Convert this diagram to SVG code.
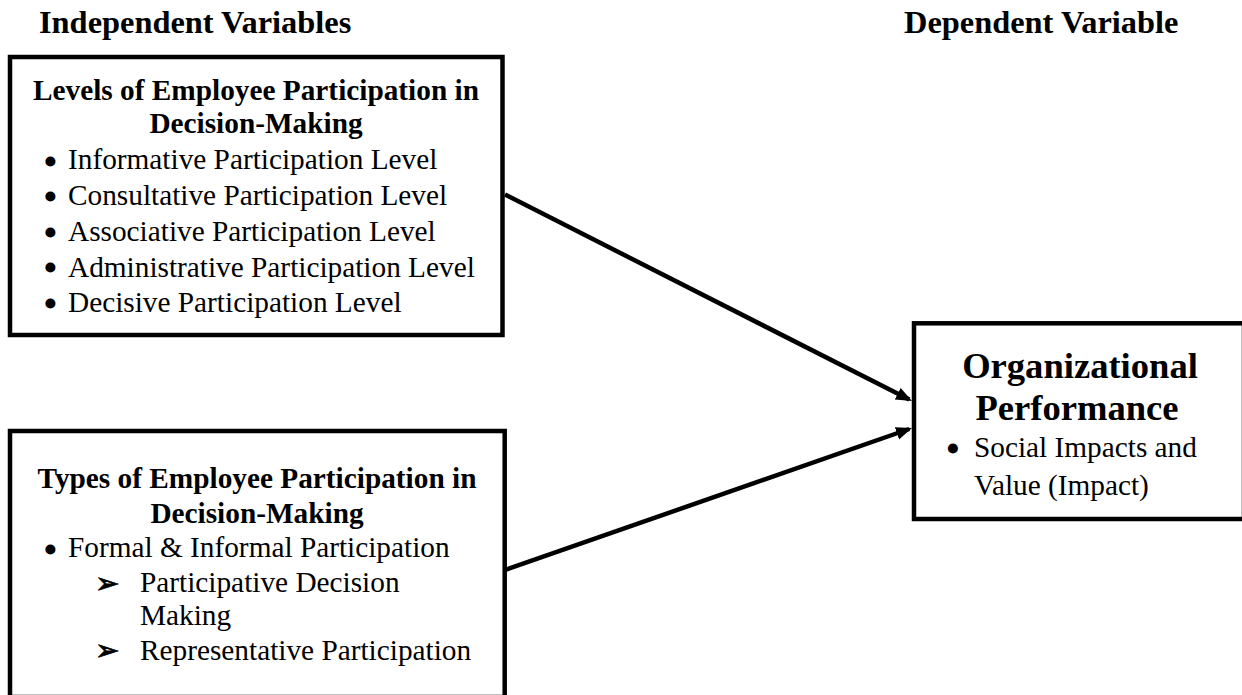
<svg xmlns="http://www.w3.org/2000/svg" width="1242" height="695" viewBox="0 0 1242 695">
<style>
.box{fill:#fff;stroke:#000;stroke-width:4.5}
.hd{font-family:"Liberation Serif","Times New Roman",serif;font-weight:bold;font-size:32.4px;fill:#000}
.tt{font-family:"Liberation Serif","Times New Roman",serif;font-weight:bold;font-size:29.3px;fill:#000;text-anchor:middle}
.big{font-family:"Liberation Serif","Times New Roman",serif;font-weight:bold;font-size:36.6px;fill:#000;text-anchor:middle}
.it{font-family:"Liberation Serif","Times New Roman",serif;font-size:29.3px;fill:#000}
.bl{font-family:"Liberation Serif","Times New Roman",serif;font-size:29.3px;fill:#000;stroke:#000;stroke-width:3;text-anchor:middle}
.ar{font-family:"DejaVu Sans",sans-serif;font-size:29px;fill:#000;stroke:#000;stroke-width:0.8}
.cn{stroke:#000;stroke-width:4.5;fill:none}
</style>
<defs>
<marker id="ah" markerUnits="userSpaceOnUse" markerWidth="18" markerHeight="14" refX="13" refY="6.5" orient="auto">
<path d="M0,0 L16,6.5 L0,13 z" fill="#000"/>
</marker>
</defs>
<g id="headings">
<text class="hd" x="39" y="33">Independent Variables</text>
<text class="hd" x="904" y="33">Dependent Variable</text>
</g>
<g id="levels">
<rect class="box" x="10" y="57" width="492.5" height="278"/>
<text class="tt" x="256" y="99.5">Levels of Employee Participation in</text>
<text class="tt" x="256" y="132.5">Decision-Making</text>
<text class="bl" x="50.5" y="171.7">•</text><text class="it" x="68" y="169">Informative Participation Level</text>
<text class="bl" x="50.5" y="206.7">•</text><text class="it" x="68" y="205">Consultative Participation Level</text>
<text class="bl" x="50.5" y="242.7">•</text><text class="it" x="68" y="241">Associative Participation Level</text>
<text class="bl" x="50.5" y="278.3">•</text><text class="it" x="68" y="276.5">Administrative Participation Level</text>
<text class="bl" x="50.5" y="314">•</text><text class="it" x="68" y="312">Decisive Participation Level</text>
</g>
<g id="types">
<rect class="box" x="10" y="431" width="494.7" height="266"/>
<text class="tt" x="257" y="488">Types of Employee Participation in</text>
<text class="tt" x="257" y="522.5">Decision-Making</text>
<text class="bl" x="50.5" y="560">•</text><text class="it" x="68" y="557">Formal &amp; Informal Participation</text>
<text class="ar" x="95" y="592.7">➢</text>
<text class="it" x="140" y="591.5">Participative Decision</text>
<text class="it" x="140" y="625">Making</text>
<text class="ar" x="95" y="659.7">➢</text>
<text class="it" x="140" y="660">Representative Participation</text>
</g>
<g id="performance">
<rect class="box" x="914" y="323.3" width="330" height="195.7"/>
<text class="big" x="1080" y="378">Organizational</text>
<text class="big" x="1077" y="420">Performance</text>
<text class="bl" x="953" y="458.7">•</text><text class="it" x="974" y="456.7">Social Impacts and</text>
<text class="it" x="974" y="495">Value (Impact)</text>
</g>
<g id="connectors">
<line class="cn" x1="505" y1="194.5" x2="909.3" y2="399.6" marker-end="url(#ah)"/>
<line class="cn" x1="505" y1="570" x2="909.2" y2="429" marker-end="url(#ah)"/>
</g>
</svg>
